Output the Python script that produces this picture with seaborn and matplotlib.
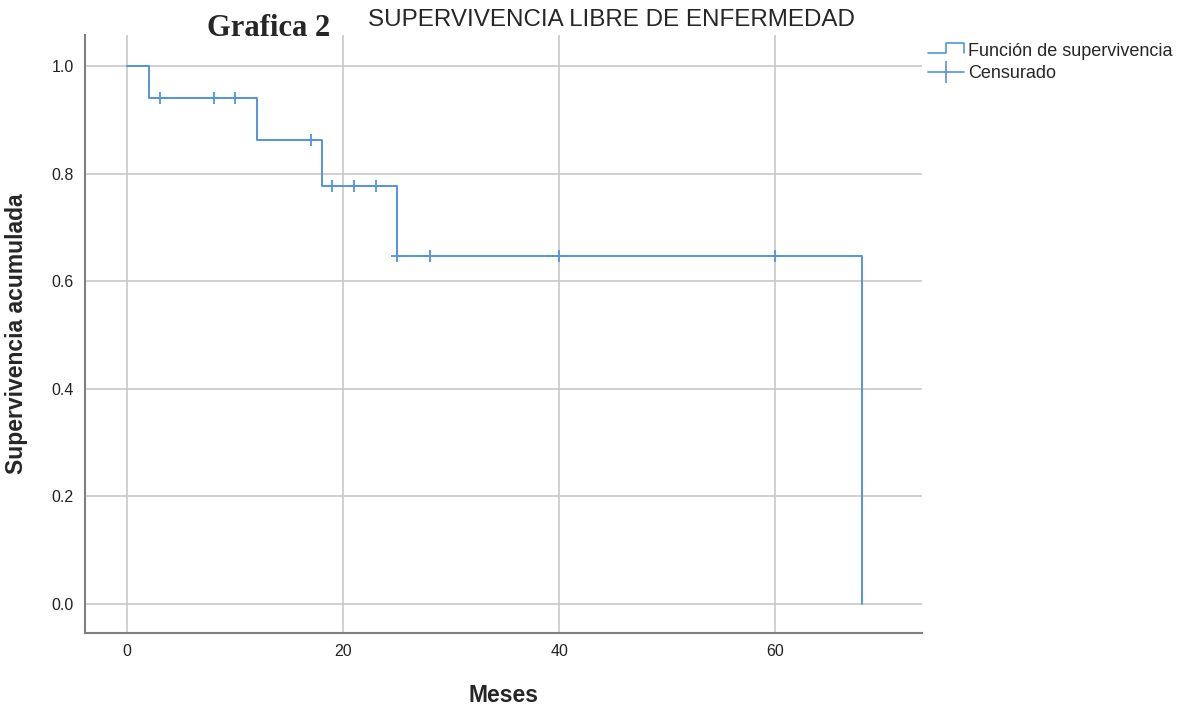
import matplotlib
matplotlib.use("Agg")
import matplotlib.pyplot as plt
import seaborn as sns
import pandas as pd
from matplotlib.lines import Line2D
from matplotlib.legend_handler import HandlerBase

# Kaplan-Meier step values
step_meses = [0, 2, 12, 18, 25, 68, 68]
step_superv = [1.0, 0.941, 0.863, 0.777, 0.647, 0.0, 0.0]

# censored observations
cens_meses = [3, 8, 10, 17, 19, 21, 23, 25, 28, 40, 60]
cens_superv = [0.941, 0.941, 0.941, 0.863, 0.777, 0.777, 0.777, 0.647, 0.647, 0.647, 0.647]

xticks = [0, 20, 40, 60]
yticks = [0.0, 0.2, 0.4, 0.6, 0.8, 1.0]

line_color = "#5294e2"


class StepHandler(HandlerBase):
    # small step-shaped legend icon
    def create_artists(self, legend, orig_handle, xdescent, ydescent, width, height, fontsize, trans):
        x0, x1 = -xdescent, -xdescent + width
        xm = x0 + width * 0.5
        y0, y1 = -ydescent, -ydescent + height
        ylo = y0 + height * 0.25
        yhi = y1 + height * 0.05
        ln = Line2D([x0, xm, xm, x1, x1], [ylo, ylo, yhi, yhi, ylo],
                    color=line_color, lw=1.2, transform=trans)
        return [ln]


sns.set_theme(style="white")
plt.rcParams['font.family'] = ['Liberation Sans', 'DejaVu Sans']

df_step = pd.DataFrame({"Meses": step_meses, "Superv": step_superv})
df_cens = pd.DataFrame({"Meses": cens_meses, "Superv": cens_superv})

fig = plt.figure(figsize=(11.92, 7.06), dpi=100)
ax = fig.add_axes([0.0713, 0.1034, 0.7022, 0.8466])

ax.step(df_step["Meses"], df_step["Superv"], where="post", color=line_color, lw=1.4, zorder=3)
sns.scatterplot(data=df_cens, x="Meses", y="Superv", marker="+", s=70, color=line_color,
                linewidth=1.3, ax=ax, zorder=4, legend=False)

ax.set_xlim(-3.9, 73.6)
ax.set_ylim(-0.054, 1.058)
ax.set_xticks(xticks)
ax.set_yticks(yticks)
ax.set_xticklabels([str(t) for t in xticks], fontsize=11.5, color="#222222")
ax.set_yticklabels([f"{t:.1f}" for t in yticks], fontsize=11.5, color="#222222")
ax.tick_params(length=0, pad=8)
ax.grid(True, color="#c8c8c8", lw=1.2)
ax.set_axisbelow(True)
for s in ["top", "right"]:
    ax.spines[s].set_visible(False)
for s in ["left", "bottom"]:
    ax.spines[s].set_color("#7f7f7f")
    ax.spines[s].set_linewidth(1.5)

ax.set_xlabel("Meses", fontsize=16.5, fontweight="bold", labelpad=18)
ax.set_ylabel("Supervivencia acumulada", fontsize=16.5, fontweight="bold", labelpad=17)

fig.text(0.174, 0.960, "Grafica 2", fontsize=22, fontweight="bold", family="Liberation Serif", va="center")
fig.text(0.309, 0.971, "SUPERVIVENCIA LIBRE DE ENFERMEDAD", fontsize=17.4, va="center")

step_handle = Line2D([], [], color=line_color)
cens_handle = Line2D([], [], color=line_color, marker="|", markersize=16, markeredgewidth=1.2, lw=1.2)
fig.legend([step_handle, cens_handle], ["Función de supervivencia", "Censurado"],
           handler_map={step_handle: StepHandler()},
           loc="upper left", bbox_to_anchor=(0.765, 0.962), frameon=False,
           fontsize=13, handlelength=2.0, handletextpad=0.2, labelspacing=0.3)

fig.savefig("out.png", dpi=100)
